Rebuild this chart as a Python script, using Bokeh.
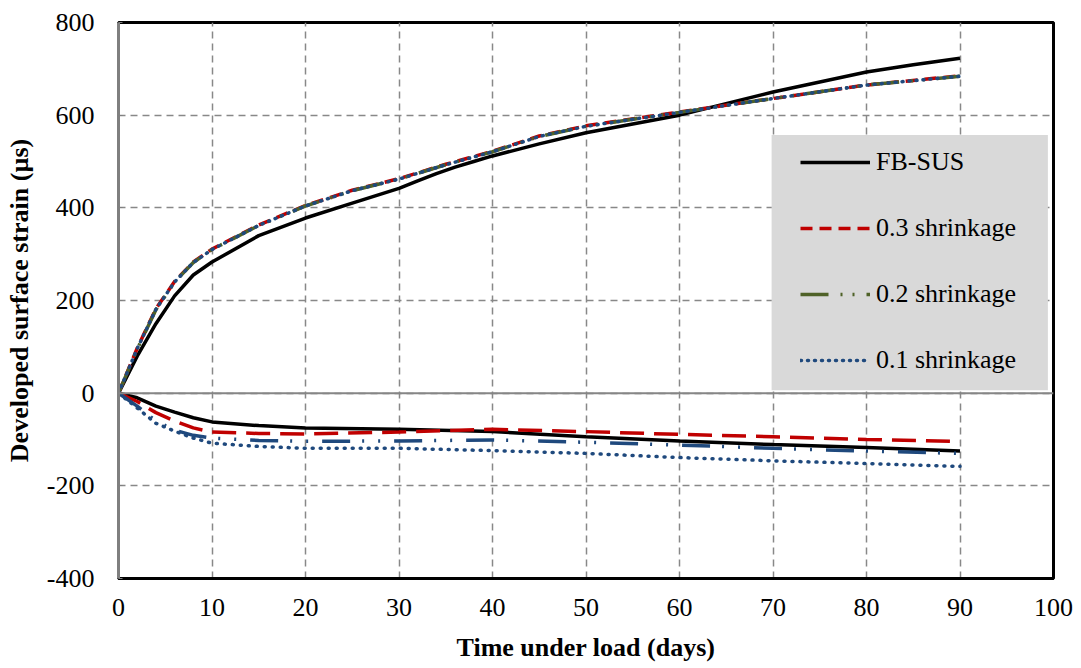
from bokeh.plotting import figure
from bokeh.models import Span, Legend, LegendItem, FixedTicker, BoxAnnotation
from bokeh.embed import file_html
from bokeh.resources import INLINE

# Upper (tensile) curves
t_fb_up = [0, 2, 4, 6, 8, 10, 15, 20, 25, 30, 32, 34, 36, 38, 40, 45, 50, 60, 70, 80, 85, 90]
fb_up = [0, 80, 150, 210, 255, 283, 340, 378, 410, 442, 458, 474, 488, 500, 512, 538, 562, 600, 650, 693, 709, 723]

t_sh_up = [0, 2, 4, 6, 8, 10, 15, 20, 25, 30, 35, 40, 45, 50, 60, 70, 80, 90]
sh03_up = [0, 97, 182, 241, 283, 311, 363, 405, 438, 463, 494, 522, 555, 577, 607, 636, 665, 685]
sh02_up = [0, 95, 180, 240, 282, 310, 362, 404, 437, 462, 493, 521, 554, 576, 606, 636, 665, 684]
sh01_up = [0, 96, 181, 240, 282, 310, 362, 404, 437, 462, 493, 521, 554, 576, 606, 636, 665, 684]

# Lower (compressive) curves
t_lo = [0, 2, 4, 6, 8, 10, 15, 20, 30, 40, 50, 60, 70, 80, 90]
fb_lo = [0, -10, -28, -41, -53, -62, -70, -75, -78, -83, -94, -103, -111, -117, -125]
sh03_lo = [0, -18, -42, -60, -75, -84, -87, -88, -84, -78, -83, -89, -94, -100, -104]
sh02_lo = [0, -28, -60, -80, -91, -97, -102, -104, -103, -101, -106, -112, -119, -125, -130]
sh01_lo = [0, -32, -65, -82, -97, -108, -115, -119, -119, -124, -130, -139, -146, -152, -158]

x_ticks = [0, 10, 20, 30, 40, 50, 60, 70, 80, 90, 100]
y_ticks = [-400, -200, 0, 200, 400, 600, 800]
y_tick_labels = {-400: "-400", -200: "-200", 0: "0", 200: "200", 400: "400", 600: "600", 800: "800"}

FONT = "Liberation Serif"
BLACK = "#000000"
RED = "#C00000"
GREEN = "#4F6228"
BLUE = "#1F497D"

p = figure(width=1075, height=668, x_range=(0, 100), y_range=(-400, 800),
           output_backend="svg", toolbar_location=None,
           min_border_left=118, min_border_right=22, min_border_top=22, min_border_bottom=90)
p.outline_line_color = "#000000"
p.outline_line_width = 3

p.xaxis.ticker = FixedTicker(ticks=x_ticks)
p.yaxis.ticker = FixedTicker(ticks=y_ticks)
p.yaxis.major_label_overrides = y_tick_labels
for ax in (p.xaxis[0], p.yaxis[0]):
    ax.axis_line_width = 3
    ax.major_tick_out = 0
    ax.minor_tick_line_color = None
    ax.major_label_text_font = FONT
    ax.major_label_text_font_size = "26px"
    ax.major_label_text_color = "#000000"
    ax.axis_label_text_font = FONT
    ax.axis_label_text_font_size = "26px"
    ax.axis_label_text_font_style = "bold"
    ax.axis_label_text_color = "#000000"
p.xaxis.axis_line_color = "#000000"
p.xaxis.major_tick_line_color = None
p.yaxis.axis_line_color = "#7F7F7F"
p.yaxis.major_tick_line_color = "#7F7F7F"
p.yaxis.major_tick_in = 4
p.xaxis.axis_label = "Time under load (days)"
p.yaxis.axis_label = "Developed surface strain (\u00b5s)"
p.xaxis.major_label_standoff = 20
p.yaxis.major_label_standoff = 24
p.xaxis.axis_label_standoff = 14
p.yaxis.axis_label_standoff = 10

for g in (p.xgrid[0], p.ygrid[0]):
    g.grid_line_color = "#888888"
    g.grid_line_width = 1.5
    g.grid_line_dash = "7 5"

p.add_layout(Span(location=0, dimension="width", line_color="#868686", line_width=2))

# grey legend panel (layout position)
p.add_layout(BoxAnnotation(left=69.85, right=99.4, bottom=6.5, top=557,
                           fill_color="#D9D9D9", fill_alpha=1, line_color=None))

W = 3.5
r_fb = p.line(t_fb_up, fb_up, line_color=BLACK, line_width=W)
p.line(t_lo, fb_lo, line_color=BLACK, line_width=W)
r_03 = p.line(t_sh_up, sh03_up, line_color=RED, line_width=W, line_dash="12 7")
p.line(t_lo, sh03_lo, line_color=RED, line_width=W, line_dash="24 10")
r_02 = p.line(t_sh_up, sh02_up, line_color=GREEN, line_width=W, line_dash="28 12 2 10 2 12")
p.line(t_lo, sh02_lo, line_color=BLUE, line_width=W, line_dash="28 12 2 14 2 14")
r_01 = p.line(t_sh_up, sh01_up, line_color=BLUE, line_width=W, line_dash="1 6", line_cap="round")
p.line(t_lo, sh01_lo, line_color=BLUE, line_width=W, line_dash="1 7", line_cap="round")

legend = Legend(items=[
    LegendItem(label="FB-SUS", renderers=[r_fb]),
    LegendItem(label="0.3 shrinkage", renderers=[r_03]),
    LegendItem(label="0.2 shrinkage", renderers=[r_02]),
    LegendItem(label="0.1 shrinkage", renderers=[r_01]),
], location=(682, 203))
legend.background_fill_alpha = 0
legend.border_line_color = None
legend.label_text_font = FONT
legend.label_text_font_size = "26px"
legend.label_text_color = "#000000"
legend.glyph_width = 70
legend.glyph_height = 20
legend.label_height = 20
legend.label_standoff = 6
legend.spacing = 36
legend.padding = 0
legend.margin = 0
p.add_layout(legend, "center")

open("out.html", "w").write(file_html(p, INLINE))
